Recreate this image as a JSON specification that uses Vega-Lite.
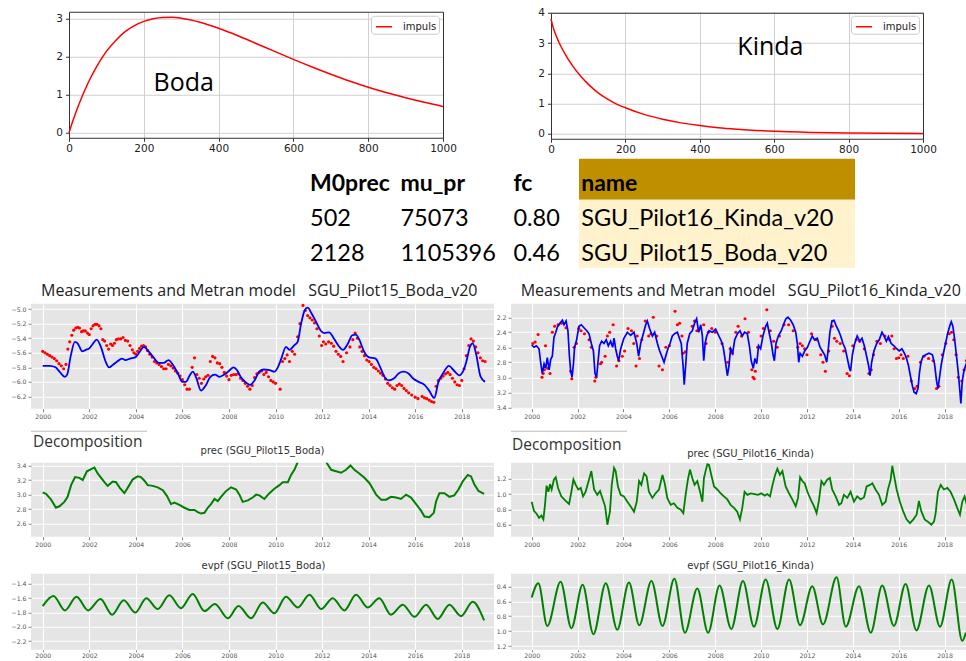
{
  "$schema": "https://vega.github.io/schema/vega-lite/v6.json",
  "background": "white",
  "padding": {"left": 10, "top": 7.75, "right": 0, "bottom": 0},
  "autosize": {"type": "pad"},
  "bounds": "flush",
  "align": "each",
  "columns": 2,
  "spacing": {"row": 0, "column": 17},
  "resolve": {"scale": {"color": "independent"}, "legend": {"color": "independent"}},
  "datasets": {
    "boda_impuls": [{"t":0,"v":0},{"t":10,"v":0.30},{"t":25,"v":0.71},{"t":50,"v":1.29},{"t":75,"v":1.76},{"t":100,"v":2.14},{"t":125,"v":2.43},{"t":150,"v":2.66},{"t":175,"v":2.82},{"t":200,"v":2.93},{"t":225,"v":3.00},{"t":250,"v":3.035},{"t":275,"v":3.038},{"t":300,"v":3.015},{"t":350,"v":2.91},{"t":400,"v":2.75},{"t":450,"v":2.56},{"t":500,"v":2.35},{"t":550,"v":2.14},{"t":600,"v":1.93},{"t":650,"v":1.73},{"t":700,"v":1.54},{"t":750,"v":1.36},{"t":800,"v":1.195},{"t":850,"v":1.05},{"t":900,"v":0.92},{"t":950,"v":0.80},{"t":1000,"v":0.69}],
    "kinda_impuls": [{"t":0,"v":3.8},{"t":5,"v":3.55},{"t":10,"v":3.36},{"t":20,"v":3.06},{"t":30,"v":2.81},{"t":40,"v":2.59},{"t":50,"v":2.39},{"t":60,"v":2.21},{"t":80,"v":1.90},{"t":100,"v":1.64},{"t":125,"v":1.37},{"t":150,"v":1.16},{"t":175,"v":0.99},{"t":200,"v":0.86},{"t":250,"v":0.64},{"t":300,"v":0.48},{"t":350,"v":0.36},{"t":400,"v":0.27},{"t":450,"v":0.20},{"t":500,"v":0.15},{"t":550,"v":0.11},{"t":600,"v":0.08},{"t":700,"v":0.045},{"t":800,"v":0.026},{"t":900,"v":0.015},{"t":1000,"v":0.009}],
    "cells": [
      {"row":"header","col":"M0prec","text":"M0prec"},{"row":"header","col":"mu_pr","text":"mu_pr"},{"row":"header","col":"fc","text":"fc"},{"row":"header","col":"name","text":"name"},
      {"row":"r1","col":"M0prec","text":"502"},{"row":"r1","col":"mu_pr","text":"75073"},{"row":"r1","col":"fc","text":"0.80"},{"row":"r1","col":"name","text":"SGU_Pilot16_Kinda_v20"},
      {"row":"r2","col":"M0prec","text":"2128"},{"row":"r2","col":"mu_pr","text":"1105396"},{"row":"r2","col":"fc","text":"0.46"},{"row":"r2","col":"name","text":"SGU_Pilot15_Boda_v20"}
    ],
    "boda_obs": [{"t":2000.0,"v":-5.58},{"t":2000.1,"v":-5.60},{"t":2000.2,"v":-5.62},{"t":2000.3,"v":-5.64},{"t":2000.4,"v":-5.66},{"t":2000.5,"v":-5.68},{"t":2000.6,"v":-5.71},{"t":2000.7,"v":-5.75},{"t":2000.8,"v":-5.78},{"t":2000.9,"v":-5.82},{"t":2001.0,"v":-5.76},{"t":2001.08,"v":-5.55},{"t":2001.16,"v":-5.45},{"t":2001.25,"v":-5.36},{"t":2001.33,"v":-5.29},{"t":2001.42,"v":-5.26},{"t":2001.5,"v":-5.25},{"t":2001.58,"v":-5.26},{"t":2001.67,"v":-5.31},{"t":2001.75,"v":-5.30},{"t":2001.83,"v":-5.30},{"t":2001.92,"v":-5.33},{"t":2002.0,"v":-5.35},{"t":2002.08,"v":-5.27},{"t":2002.16,"v":-5.23},{"t":2002.25,"v":-5.21},{"t":2002.33,"v":-5.21},{"t":2002.42,"v":-5.23},{"t":2002.5,"v":-5.27},{"t":2002.58,"v":-5.42},{"t":2002.66,"v":-5.44},{"t":2002.75,"v":-5.50},{"t":2002.83,"v":-5.55},{"t":2002.92,"v":-5.48},{"t":2003.0,"v":-5.50},{"t":2003.08,"v":-5.47},{"t":2003.16,"v":-5.42},{"t":2003.25,"v":-5.41},{"t":2003.35,"v":-5.41},{"t":2003.45,"v":-5.39},{"t":2003.55,"v":-5.43},{"t":2003.65,"v":-5.44},{"t":2003.75,"v":-5.50},{"t":2003.85,"v":-5.56},{"t":2003.92,"v":-5.60},{"t":2004.0,"v":-5.62},{"t":2004.08,"v":-5.58},{"t":2004.16,"v":-5.54},{"t":2004.25,"v":-5.51},{"t":2004.33,"v":-5.50},{"t":2004.42,"v":-5.52},{"t":2004.5,"v":-5.57},{"t":2004.6,"v":-5.62},{"t":2004.7,"v":-5.66},{"t":2004.8,"v":-5.72},{"t":2004.9,"v":-5.74},{"t":2005.0,"v":-5.76},{"t":2005.1,"v":-5.79},{"t":2005.2,"v":-5.82},{"t":2005.3,"v":-5.82},{"t":2005.4,"v":-5.76},{"t":2005.5,"v":-5.78},{"t":2005.6,"v":-5.81},{"t":2005.7,"v":-5.85},{"t":2005.8,"v":-5.88},{"t":2005.9,"v":-5.92},{"t":2006.0,"v":-5.97},{"t":2006.1,"v":-6.04},{"t":2006.2,"v":-6.10},{"t":2006.3,"v":-6.10},{"t":2006.42,"v":-5.80},{"t":2006.52,"v":-5.67},{"t":2006.62,"v":-5.90},{"t":2006.72,"v":-5.95},{"t":2006.82,"v":-6.02},{"t":2006.92,"v":-5.96},{"t":2007.0,"v":-5.93},{"t":2007.1,"v":-5.91},{"t":2007.2,"v":-5.72},{"t":2007.3,"v":-5.65},{"t":2007.4,"v":-5.67},{"t":2007.5,"v":-5.74},{"t":2007.6,"v":-5.75},{"t":2007.7,"v":-5.80},{"t":2007.8,"v":-5.87},{"t":2007.9,"v":-5.92},{"t":2008.0,"v":-5.97},{"t":2008.1,"v":-5.91},{"t":2008.2,"v":-5.90},{"t":2008.3,"v":-5.90},{"t":2008.4,"v":-5.89},{"t":2008.5,"v":-5.95},{"t":2008.6,"v":-5.98},{"t":2008.7,"v":-6.02},{"t":2008.8,"v":-6.06},{"t":2008.9,"v":-6.10},{"t":2009.0,"v":-6.05},{"t":2009.1,"v":-5.94},{"t":2009.2,"v":-5.89},{"t":2009.3,"v":-5.87},{"t":2009.4,"v":-5.85},{"t":2009.5,"v":-5.90},{"t":2009.6,"v":-5.87},{"t":2009.7,"v":-5.93},{"t":2009.8,"v":-5.98},{"t":2009.9,"v":-6.00},{"t":2010.0,"v":-6.02},{"t":2010.2,"v":-6.10},{"t":2010.3,"v":-5.72},{"t":2010.4,"v":-5.68},{"t":2010.5,"v":-5.63},{"t":2010.6,"v":-5.72},{"t":2010.72,"v":-5.58},{"t":2010.82,"v":-5.62},{"t":2010.95,"v":-5.38},{"t":2011.05,"v":-5.20},{"t":2011.18,"v":-4.95},{"t":2011.28,"v":-5.02},{"t":2011.38,"v":-5.09},{"t":2011.48,"v":-5.12},{"t":2011.58,"v":-5.15},{"t":2011.68,"v":-5.19},{"t":2011.78,"v":-5.27},{"t":2011.88,"v":-5.37},{"t":2011.98,"v":-5.50},{"t":2012.06,"v":-5.45},{"t":2012.16,"v":-5.48},{"t":2012.28,"v":-5.45},{"t":2012.4,"v":-5.47},{"t":2012.5,"v":-5.51},{"t":2012.6,"v":-5.58},{"t":2012.7,"v":-5.62},{"t":2012.8,"v":-5.65},{"t":2012.9,"v":-5.72},{"t":2013.05,"v":-5.60},{"t":2013.2,"v":-5.52},{"t":2013.32,"v":-5.42},{"t":2013.42,"v":-5.33},{"t":2013.52,"v":-5.40},{"t":2013.62,"v":-5.52},{"t":2013.72,"v":-5.58},{"t":2013.82,"v":-5.64},{"t":2013.92,"v":-5.70},{"t":2014.02,"v":-5.72},{"t":2014.12,"v":-5.76},{"t":2014.22,"v":-5.80},{"t":2014.32,"v":-5.82},{"t":2014.42,"v":-5.85},{"t":2014.52,"v":-5.88},{"t":2014.62,"v":-5.91},{"t":2014.72,"v":-5.96},{"t":2014.82,"v":-6.02},{"t":2014.92,"v":-6.05},{"t":2015.02,"v":-6.08},{"t":2015.12,"v":-6.10},{"t":2015.22,"v":-6.05},{"t":2015.32,"v":-6.03},{"t":2015.42,"v":-6.05},{"t":2015.52,"v":-6.09},{"t":2015.62,"v":-6.12},{"t":2015.72,"v":-6.15},{"t":2015.85,"v":-6.18},{"t":2016.0,"v":-6.21},{"t":2016.12,"v":-6.23},{"t":2016.3,"v":-6.20},{"t":2016.4,"v":-6.22},{"t":2016.5,"v":-6.23},{"t":2016.6,"v":-6.25},{"t":2016.7,"v":-6.27},{"t":2016.8,"v":-6.28},{"t":2016.9,"v":-6.06},{"t":2017.0,"v":-5.98},{"t":2017.1,"v":-5.95},{"t":2017.2,"v":-5.92},{"t":2017.3,"v":-5.89},{"t":2017.4,"v":-5.87},{"t":2017.5,"v":-5.90},{"t":2017.6,"v":-5.95},{"t":2017.7,"v":-6.00},{"t":2017.8,"v":-6.04},{"t":2017.9,"v":-6.05},{"t":2018.0,"v":-5.98},{"t":2018.1,"v":-5.82},{"t":2018.2,"v":-5.64},{"t":2018.3,"v":-5.50},{"t":2018.4,"v":-5.41},{"t":2018.5,"v":-5.44},{"t":2018.6,"v":-5.52},{"t":2018.7,"v":-5.60},{"t":2018.8,"v":-5.67},{"t":2018.9,"v":-5.71},{"t":2019.0,"v":-5.72}],
    "boda_model": [{"t":2000.0,"v":-5.78},{"t":2000.3,"v":-5.78},{"t":2000.55,"v":-5.80},{"t":2000.75,"v":-5.87},{"t":2000.95,"v":-5.93},{"t":2001.05,"v":-5.90},{"t":2001.2,"v":-5.65},{"t":2001.38,"v":-5.45},{"t":2001.5,"v":-5.47},{"t":2001.7,"v":-5.58},{"t":2001.85,"v":-5.56},{"t":2002.0,"v":-5.54},{"t":2002.15,"v":-5.48},{"t":2002.32,"v":-5.42},{"t":2002.5,"v":-5.52},{"t":2002.7,"v":-5.72},{"t":2002.85,"v":-5.80},{"t":2003.0,"v":-5.77},{"t":2003.2,"v":-5.72},{"t":2003.4,"v":-5.68},{"t":2003.55,"v":-5.70},{"t":2003.75,"v":-5.68},{"t":2004.0,"v":-5.66},{"t":2004.2,"v":-5.57},{"t":2004.35,"v":-5.52},{"t":2004.55,"v":-5.58},{"t":2004.75,"v":-5.66},{"t":2005.0,"v":-5.74},{"t":2005.2,"v":-5.74},{"t":2005.4,"v":-5.70},{"t":2005.6,"v":-5.77},{"t":2005.8,"v":-5.88},{"t":2006.0,"v":-6.00},{"t":2006.15,"v":-6.00},{"t":2006.3,"v":-5.92},{"t":2006.45,"v":-5.86},{"t":2006.6,"v":-5.95},{"t":2006.8,"v":-6.12},{"t":2007.0,"v":-6.05},{"t":2007.2,"v":-5.93},{"t":2007.4,"v":-5.90},{"t":2007.6,"v":-5.93},{"t":2007.8,"v":-5.90},{"t":2008.0,"v":-5.85},{"t":2008.2,"v":-5.80},{"t":2008.35,"v":-5.84},{"t":2008.5,"v":-5.93},{"t":2008.7,"v":-6.00},{"t":2008.9,"v":-6.04},{"t":2009.1,"v":-5.98},{"t":2009.3,"v":-5.86},{"t":2009.5,"v":-5.83},{"t":2009.75,"v":-5.84},{"t":2009.95,"v":-5.86},{"t":2010.1,"v":-5.80},{"t":2010.25,"v":-5.68},{"t":2010.45,"v":-5.52},{"t":2010.6,"v":-5.56},{"t":2010.8,"v":-5.50},{"t":2010.95,"v":-5.45},{"t":2011.1,"v":-5.20},{"t":2011.25,"v":-5.02},{"t":2011.38,"v":-4.98},{"t":2011.55,"v":-5.06},{"t":2011.75,"v":-5.18},{"t":2011.95,"v":-5.30},{"t":2012.1,"v":-5.33},{"t":2012.3,"v":-5.32},{"t":2012.5,"v":-5.40},{"t":2012.7,"v":-5.50},{"t":2012.9,"v":-5.56},{"t":2013.1,"v":-5.48},{"t":2013.3,"v":-5.36},{"t":2013.45,"v":-5.35},{"t":2013.6,"v":-5.42},{"t":2013.8,"v":-5.58},{"t":2014.0,"v":-5.66},{"t":2014.3,"v":-5.68},{"t":2014.5,"v":-5.80},{"t":2014.7,"v":-5.94},{"t":2014.85,"v":-5.98},{"t":2015.1,"v":-5.95},{"t":2015.3,"v":-5.88},{"t":2015.5,"v":-5.86},{"t":2015.7,"v":-5.88},{"t":2015.9,"v":-5.95},{"t":2016.15,"v":-6.00},{"t":2016.4,"v":-6.04},{"t":2016.6,"v":-6.12},{"t":2016.82,"v":-6.22},{"t":2017.0,"v":-6.00},{"t":2017.2,"v":-5.88},{"t":2017.45,"v":-5.78},{"t":2017.65,"v":-5.84},{"t":2017.9,"v":-5.91},{"t":2018.05,"v":-5.86},{"t":2018.2,"v":-5.72},{"t":2018.35,"v":-5.52},{"t":2018.47,"v":-5.47},{"t":2018.62,"v":-5.62},{"t":2018.8,"v":-5.92},{"t":2019.0,"v":-6.0}],
    "kinda_obs": [{"t":2000.05,"v":2.55},{"t":2000.15,"v":2.53},{"t":2000.28,"v":2.43},{"t":2000.45,"v":3.0},{"t":2000.5,"v":2.95},{"t":2000.55,"v":2.9},{"t":2000.6,"v":2.58},{"t":2000.7,"v":2.88},{"t":2000.8,"v":2.95},{"t":2000.9,"v":2.4},{"t":2001.0,"v":2.32},{"t":2001.15,"v":2.3},{"t":2001.3,"v":2.28},{"t":2001.5,"v":2.34},{"t":2001.7,"v":2.92},{"t":2001.75,"v":3.02},{"t":2001.85,"v":2.6},{"t":2001.95,"v":2.55},{"t":2002.05,"v":2.35},{"t":2002.15,"v":2.38},{"t":2002.3,"v":2.42},{"t":2002.5,"v":2.5},{"t":2002.6,"v":2.6},{"t":2002.75,"v":3.05},{"t":2002.8,"v":3.0},{"t":2003.0,"v":2.82},{"t":2003.05,"v":2.8},{"t":2003.2,"v":2.72},{"t":2003.3,"v":2.45},{"t":2003.4,"v":2.4},{"t":2003.55,"v":2.3},{"t":2003.7,"v":2.85},{"t":2003.8,"v":2.78},{"t":2003.95,"v":2.72},{"t":2004.05,"v":2.65},{"t":2004.2,"v":2.35},{"t":2004.35,"v":2.38},{"t":2004.45,"v":2.55},{"t":2004.55,"v":2.85},{"t":2004.6,"v":2.45},{"t":2004.7,"v":2.75},{"t":2004.8,"v":2.5},{"t":2004.95,"v":2.25},{"t":2005.1,"v":2.45},{"t":2005.2,"v":2.42},{"t":2005.3,"v":2.2},{"t":2005.45,"v":2.45},{"t":2005.55,"v":2.85},{"t":2005.7,"v":2.9},{"t":2005.85,"v":2.6},{"t":2006.0,"v":2.58},{"t":2006.25,"v":2.12},{"t":2006.35,"v":2.3},{"t":2006.45,"v":2.28},{"t":2006.55,"v":2.45},{"t":2006.6,"v":2.68},{"t":2006.7,"v":2.66},{"t":2007.0,"v":2.32},{"t":2007.1,"v":2.25},{"t":2007.2,"v":2.38},{"t":2007.35,"v":2.35},{"t":2007.5,"v":2.3},{"t":2007.6,"v":2.55},{"t":2007.7,"v":2.4},{"t":2007.85,"v":2.35},{"t":2008.0,"v":2.4},{"t":2008.3,"v":2.55},{"t":2008.55,"v":2.8},{"t":2008.65,"v":2.62},{"t":2008.75,"v":2.68},{"t":2008.9,"v":2.4},{"t":2009.0,"v":2.32},{"t":2009.15,"v":2.45},{"t":2009.3,"v":2.22},{"t":2009.45,"v":2.4},{"t":2009.6,"v":2.9},{"t":2009.65,"v":3.0},{"t":2009.7,"v":3.02},{"t":2009.75,"v":2.92},{"t":2009.85,"v":2.6},{"t":2010.0,"v":2.45},{"t":2010.1,"v":2.35},{"t":2010.25,"v":2.1},{"t":2010.4,"v":2.38},{"t":2010.55,"v":2.52},{"t":2010.7,"v":2.6},{"t":2010.8,"v":2.45},{"t":2011.0,"v":2.3},{"t":2011.2,"v":2.3},{"t":2011.4,"v":2.38},{"t":2011.6,"v":2.6},{"t":2011.7,"v":2.55},{"t":2011.8,"v":2.58},{"t":2011.9,"v":2.62},{"t":2012.0,"v":2.7},{"t":2012.2,"v":2.42},{"t":2012.4,"v":2.5},{"t":2012.6,"v":2.7},{"t":2012.7,"v":2.8},{"t":2012.8,"v":2.92},{"t":2012.95,"v":2.65},{"t":2013.1,"v":2.32},{"t":2013.2,"v":2.48},{"t":2013.3,"v":2.52},{"t":2013.45,"v":2.55},{"t":2013.6,"v":2.65},{"t":2013.75,"v":2.95},{"t":2013.85,"v":2.98},{"t":2014.0,"v":2.58},{"t":2014.15,"v":2.5},{"t":2014.3,"v":2.52},{"t":2014.5,"v":2.62},{"t":2014.7,"v":2.95},{"t":2014.8,"v":2.9},{"t":2014.9,"v":2.7},{"t":2015.05,"v":2.52},{"t":2015.2,"v":2.55},{"t":2015.4,"v":2.45},{"t":2015.6,"v":2.5},{"t":2015.7,"v":2.45},{"t":2015.8,"v":2.62},{"t":2015.9,"v":2.75},{"t":2016.0,"v":2.74},{"t":2016.1,"v":2.7},{"t":2016.2,"v":2.75},{"t":2016.4,"v":2.72},{"t":2016.55,"v":3.05},{"t":2016.7,"v":3.15},{"t":2016.8,"v":3.12},{"t":2016.95,"v":2.8},{"t":2017.1,"v":2.72},{"t":2017.3,"v":2.75},{"t":2017.5,"v":2.78},{"t":2017.65,"v":3.15},{"t":2017.75,"v":3.12},{"t":2017.9,"v":2.7},{"t":2018.05,"v":2.55},{"t":2018.2,"v":2.42},{"t":2018.3,"v":2.4},{"t":2018.4,"v":2.5},{"t":2018.5,"v":2.7},{"t":2018.6,"v":3.0},{"t":2018.75,"v":3.05},{"t":2018.85,"v":2.9},{"t":2018.95,"v":2.78}],
    "kinda_model": [{"t":2000.00,"v":2.57},{"t":2000.10,"v":2.60},{"t":2000.20,"v":2.58},{"t":2000.32,"v":2.62},{"t":2000.39,"v":2.80},{"t":2000.46,"v":2.95},{"t":2000.54,"v":2.82},{"t":2000.61,"v":2.88},{"t":2000.68,"v":2.74},{"t":2000.76,"v":2.90},{"t":2000.83,"v":2.76},{"t":2000.90,"v":2.72},{"t":2000.97,"v":2.47},{"t":2001.05,"v":2.40},{"t":2001.12,"v":2.33},{"t":2001.23,"v":2.28},{"t":2001.34,"v":2.24},{"t":2001.41,"v":2.30},{"t":2001.50,"v":2.25},{"t":2001.58,"v":2.38},{"t":2001.64,"v":2.70},{"t":2001.70,"v":2.92},{"t":2001.76,"v":3.00},{"t":2001.82,"v":2.82},{"t":2001.87,"v":2.60},{"t":2001.96,"v":2.50},{"t":2002.06,"v":2.32},{"t":2002.16,"v":2.30},{"t":2002.28,"v":2.34},{"t":2002.40,"v":2.38},{"t":2002.50,"v":2.42},{"t":2002.60,"v":2.55},{"t":2002.69,"v":2.65},{"t":2002.76,"v":2.95},{"t":2002.83,"v":3.00},{"t":2002.89,"v":2.80},{"t":2002.96,"v":2.58},{"t":2003.05,"v":2.52},{"t":2003.15,"v":2.55},{"t":2003.25,"v":2.50},{"t":2003.34,"v":2.58},{"t":2003.44,"v":2.52},{"t":2003.53,"v":2.60},{"t":2003.59,"v":2.48},{"t":2003.66,"v":2.62},{"t":2003.73,"v":2.72},{"t":2003.79,"v":2.78},{"t":2003.88,"v":2.62},{"t":2004.02,"v":2.48},{"t":2004.17,"v":2.40},{"t":2004.31,"v":2.44},{"t":2004.46,"v":2.40},{"t":2004.58,"v":2.55},{"t":2004.66,"v":2.72},{"t":2004.75,"v":2.55},{"t":2004.84,"v":2.45},{"t":2004.97,"v":2.30},{"t":2005.04,"v":2.25},{"t":2005.14,"v":2.35},{"t":2005.26,"v":2.45},{"t":2005.36,"v":2.40},{"t":2005.48,"v":2.55},{"t":2005.58,"v":2.65},{"t":2005.67,"v":2.72},{"t":2005.77,"v":2.80},{"t":2005.86,"v":2.70},{"t":2005.94,"v":2.62},{"t":2006.03,"v":2.55},{"t":2006.13,"v":2.45},{"t":2006.23,"v":2.42},{"t":2006.35,"v":2.40},{"t":2006.44,"v":2.48},{"t":2006.52,"v":2.55},{"t":2006.60,"v":2.85},{"t":2006.65,"v":3.10},{"t":2006.71,"v":2.85},{"t":2006.78,"v":2.55},{"t":2006.89,"v":2.42},{"t":2007.00,"v":2.38},{"t":2007.10,"v":2.28},{"t":2007.19,"v":2.22},{"t":2007.28,"v":2.40},{"t":2007.37,"v":2.30},{"t":2007.44,"v":2.45},{"t":2007.50,"v":2.78},{"t":2007.56,"v":2.55},{"t":2007.63,"v":2.45},{"t":2007.73,"v":2.38},{"t":2007.87,"v":2.40},{"t":2008.02,"v":2.36},{"t":2008.16,"v":2.45},{"t":2008.27,"v":2.52},{"t":2008.35,"v":2.60},{"t":2008.44,"v":2.78},{"t":2008.53,"v":2.98},{"t":2008.60,"v":2.85},{"t":2008.67,"v":2.62},{"t":2008.76,"v":2.68},{"t":2008.85,"v":2.50},{"t":2008.97,"v":2.42},{"t":2009.08,"v":2.38},{"t":2009.18,"v":2.45},{"t":2009.28,"v":2.40},{"t":2009.40,"v":2.42},{"t":2009.49,"v":2.58},{"t":2009.57,"v":2.78},{"t":2009.66,"v":2.88},{"t":2009.73,"v":2.75},{"t":2009.81,"v":2.82},{"t":2009.89,"v":2.58},{"t":2009.98,"v":2.62},{"t":2010.08,"v":2.45},{"t":2010.20,"v":2.32},{"t":2010.27,"v":2.28},{"t":2010.36,"v":2.42},{"t":2010.45,"v":2.55},{"t":2010.52,"v":2.70},{"t":2010.58,"v":2.78},{"t":2010.65,"v":2.55},{"t":2010.75,"v":2.45},{"t":2010.88,"v":2.38},{"t":2011.00,"v":2.28},{"t":2011.08,"v":2.22},{"t":2011.17,"v":2.20},{"t":2011.29,"v":2.24},{"t":2011.40,"v":2.30},{"t":2011.51,"v":2.40},{"t":2011.58,"v":2.55},{"t":2011.64,"v":2.80},{"t":2011.70,"v":2.68},{"t":2011.80,"v":2.72},{"t":2011.90,"v":2.65},{"t":2012.02,"v":2.60},{"t":2012.13,"v":2.52},{"t":2012.23,"v":2.45},{"t":2012.33,"v":2.50},{"t":2012.45,"v":2.48},{"t":2012.57,"v":2.60},{"t":2012.67,"v":2.65},{"t":2012.77,"v":2.70},{"t":2012.86,"v":2.80},{"t":2012.93,"v":2.62},{"t":2013.00,"v":2.40},{"t":2013.09,"v":2.25},{"t":2013.18,"v":2.24},{"t":2013.28,"v":2.32},{"t":2013.38,"v":2.38},{"t":2013.47,"v":2.45},{"t":2013.57,"v":2.55},{"t":2013.67,"v":2.62},{"t":2013.76,"v":2.75},{"t":2013.85,"v":2.88},{"t":2013.90,"v":2.92},{"t":2013.98,"v":2.70},{"t":2014.08,"v":2.55},{"t":2014.19,"v":2.45},{"t":2014.30,"v":2.52},{"t":2014.40,"v":2.48},{"t":2014.50,"v":2.58},{"t":2014.60,"v":2.72},{"t":2014.69,"v":2.85},{"t":2014.75,"v":2.98},{"t":2014.82,"v":2.80},{"t":2014.92,"v":2.65},{"t":2015.04,"v":2.55},{"t":2015.15,"v":2.50},{"t":2015.27,"v":2.40},{"t":2015.36,"v":2.45},{"t":2015.46,"v":2.52},{"t":2015.55,"v":2.46},{"t":2015.67,"v":2.55},{"t":2015.79,"v":2.58},{"t":2015.91,"v":2.62},{"t":2016.02,"v":2.65},{"t":2016.14,"v":2.62},{"t":2016.25,"v":2.68},{"t":2016.34,"v":2.75},{"t":2016.43,"v":2.85},{"t":2016.52,"v":3.00},{"t":2016.60,"v":3.12},{"t":2016.67,"v":3.20},{"t":2016.76,"v":3.22},{"t":2016.84,"v":3.15},{"t":2016.90,"v":2.95},{"t":2016.97,"v":2.80},{"t":2017.06,"v":2.72},{"t":2017.18,"v":2.70},{"t":2017.32,"v":2.68},{"t":2017.47,"v":2.70},{"t":2017.56,"v":2.82},{"t":2017.65,"v":3.05},{"t":2017.71,"v":3.15},{"t":2017.78,"v":3.00},{"t":2017.86,"v":2.82},{"t":2017.95,"v":2.68},{"t":2018.04,"v":2.55},{"t":2018.13,"v":2.42},{"t":2018.22,"v":2.32},{"t":2018.29,"v":2.26},{"t":2018.36,"v":2.32},{"t":2018.44,"v":2.50},{"t":2018.52,"v":2.72},{"t":2018.60,"v":2.95},{"t":2018.67,"v":3.20},{"t":2018.71,"v":3.35},{"t":2018.77,"v":3.05},{"t":2018.84,"v":2.92},{"t":2018.91,"v":2.85},{"t":2018.97,"v":2.80}],
    "boda_prec": [{"t":2000.00,"v":3.03},{"t":2000.14,"v":3.01},{"t":2000.36,"v":2.93},{"t":2000.57,"v":2.82},{"t":2000.72,"v":2.84},{"t":2000.93,"v":2.90},{"t":2001.07,"v":2.97},{"t":2001.22,"v":3.13},{"t":2001.39,"v":3.24},{"t":2001.58,"v":3.23},{"t":2001.72,"v":3.20},{"t":2001.90,"v":3.32},{"t":2002.08,"v":3.35},{"t":2002.22,"v":3.37},{"t":2002.36,"v":3.29},{"t":2002.51,"v":3.23},{"t":2002.65,"v":3.17},{"t":2002.79,"v":3.12},{"t":2003.01,"v":3.18},{"t":2003.15,"v":3.17},{"t":2003.32,"v":3.09},{"t":2003.51,"v":3.02},{"t":2003.72,"v":3.13},{"t":2003.87,"v":3.21},{"t":2004.08,"v":3.25},{"t":2004.22,"v":3.24},{"t":2004.37,"v":3.19},{"t":2004.51,"v":3.13},{"t":2004.73,"v":3.12},{"t":2004.94,"v":3.10},{"t":2005.16,"v":3.06},{"t":2005.34,"v":2.98},{"t":2005.51,"v":2.87},{"t":2005.66,"v":2.89},{"t":2005.87,"v":2.86},{"t":2006.09,"v":2.82},{"t":2006.30,"v":2.79},{"t":2006.52,"v":2.79},{"t":2006.66,"v":2.76},{"t":2006.80,"v":2.74},{"t":2006.95,"v":2.75},{"t":2007.09,"v":2.82},{"t":2007.23,"v":2.87},{"t":2007.38,"v":2.94},{"t":2007.52,"v":2.91},{"t":2007.66,"v":2.97},{"t":2007.88,"v":3.05},{"t":2008.09,"v":3.10},{"t":2008.31,"v":3.07},{"t":2008.45,"v":3.00},{"t":2008.59,"v":2.90},{"t":2008.81,"v":2.92},{"t":2009.02,"v":2.96},{"t":2009.17,"v":3.00},{"t":2009.31,"v":2.99},{"t":2009.52,"v":2.94},{"t":2009.74,"v":3.02},{"t":2009.95,"v":3.08},{"t":2010.17,"v":3.13},{"t":2010.31,"v":3.17},{"t":2010.53,"v":3.17},{"t":2010.67,"v":3.27},{"t":2010.81,"v":3.34},{"t":2010.96,"v":3.45},{"t":2011.2,"v":3.62},{"t":2011.5,"v":3.72},{"t":2011.8,"v":3.66},{"t":2012.0,"v":3.55},{"t":2012.17,"v":3.45},{"t":2012.39,"v":3.34},{"t":2012.60,"v":3.32},{"t":2012.82,"v":3.30},{"t":2013.03,"v":3.34},{"t":2013.22,"v":3.40},{"t":2013.39,"v":3.34},{"t":2013.60,"v":3.29},{"t":2013.82,"v":3.23},{"t":2014.03,"v":3.16},{"t":2014.18,"v":3.08},{"t":2014.32,"v":3.00},{"t":2014.54,"v":2.93},{"t":2014.75,"v":2.93},{"t":2014.96,"v":2.97},{"t":2015.18,"v":2.96},{"t":2015.39,"v":2.94},{"t":2015.61,"v":3.00},{"t":2015.82,"v":2.96},{"t":2016.04,"v":2.87},{"t":2016.25,"v":2.78},{"t":2016.40,"v":2.70},{"t":2016.61,"v":2.69},{"t":2016.80,"v":2.75},{"t":2016.90,"v":2.91},{"t":2017.04,"v":3.02},{"t":2017.26,"v":3.02},{"t":2017.47,"v":2.97},{"t":2017.68,"v":2.99},{"t":2017.86,"v":3.07},{"t":2018.04,"v":3.18},{"t":2018.26,"v":3.27},{"t":2018.40,"v":3.25},{"t":2018.54,"v":3.14},{"t":2018.72,"v":3.05},{"t":2018.96,"v":3.01}],
    "kinda_prec": [{"t":2000.00,"v":0.90},{"t":2000.10,"v":0.78},{"t":2000.22,"v":0.74},{"t":2000.32,"v":0.69},{"t":2000.42,"v":0.72},{"t":2000.51,"v":0.67},{"t":2000.58,"v":0.86},{"t":2000.65,"v":1.11},{"t":2000.73,"v":1.03},{"t":2000.80,"v":1.13},{"t":2000.87,"v":1.06},{"t":2000.97,"v":1.19},{"t":2001.05,"v":1.22},{"t":2001.15,"v":1.08},{"t":2001.29,"v":0.97},{"t":2001.48,"v":0.91},{"t":2001.63,"v":0.87},{"t":2001.73,"v":1.03},{"t":2001.82,"v":1.19},{"t":2001.92,"v":1.12},{"t":2002.03,"v":1.06},{"t":2002.14,"v":1.08},{"t":2002.24,"v":0.97},{"t":2002.35,"v":1.03},{"t":2002.50,"v":1.19},{"t":2002.60,"v":1.30},{"t":2002.72,"v":1.06},{"t":2002.86,"v":0.99},{"t":2002.98,"v":1.04},{"t":2003.08,"v":0.95},{"t":2003.20,"v":0.84},{"t":2003.30,"v":0.60},{"t":2003.41,"v":0.77},{"t":2003.49,"v":1.12},{"t":2003.59,"v":1.34},{"t":2003.66,"v":1.30},{"t":2003.76,"v":1.10},{"t":2003.88,"v":0.99},{"t":2004.02,"v":0.97},{"t":2004.17,"v":0.90},{"t":2004.31,"v":0.84},{"t":2004.46,"v":0.77},{"t":2004.58,"v":0.90},{"t":2004.68,"v":1.17},{"t":2004.78,"v":1.12},{"t":2004.90,"v":1.27},{"t":2005.01,"v":1.23},{"t":2005.11,"v":1.03},{"t":2005.26,"v":0.95},{"t":2005.40,"v":1.01},{"t":2005.55,"v":1.06},{"t":2005.70,"v":1.25},{"t":2005.80,"v":1.14},{"t":2005.91,"v":0.95},{"t":2006.06,"v":0.86},{"t":2006.20,"v":0.88},{"t":2006.35,"v":0.82},{"t":2006.49,"v":0.80},{"t":2006.61,"v":0.75},{"t":2006.71,"v":0.99},{"t":2006.81,"v":1.19},{"t":2006.90,"v":1.32},{"t":2007.00,"v":1.21},{"t":2007.10,"v":1.12},{"t":2007.22,"v":1.17},{"t":2007.34,"v":1.03},{"t":2007.44,"v":0.90},{"t":2007.51,"v":1.21},{"t":2007.58,"v":1.30},{"t":2007.66,"v":1.39},{"t":2007.73,"v":1.38},{"t":2007.83,"v":1.25},{"t":2007.95,"v":1.10},{"t":2008.09,"v":1.06},{"t":2008.24,"v":1.01},{"t":2008.38,"v":0.97},{"t":2008.53,"v":0.93},{"t":2008.67,"v":0.86},{"t":2008.82,"v":0.82},{"t":2008.96,"v":0.77},{"t":2009.08,"v":0.67},{"t":2009.18,"v":0.82},{"t":2009.28,"v":1.03},{"t":2009.40,"v":0.99},{"t":2009.55,"v":1.01},{"t":2009.72,"v":1.00},{"t":2009.86,"v":0.99},{"t":2010.01,"v":1.01},{"t":2010.16,"v":0.98},{"t":2010.27,"v":1.00},{"t":2010.39,"v":0.97},{"t":2010.50,"v":1.12},{"t":2010.61,"v":1.25},{"t":2010.71,"v":1.33},{"t":2010.82,"v":1.25},{"t":2010.93,"v":1.30},{"t":2011.07,"v":1.10},{"t":2011.22,"v":1.01},{"t":2011.36,"v":0.93},{"t":2011.51,"v":0.84},{"t":2011.61,"v":0.95},{"t":2011.70,"v":1.22},{"t":2011.80,"v":1.17},{"t":2011.90,"v":1.14},{"t":2012.02,"v":1.03},{"t":2012.16,"v":0.93},{"t":2012.31,"v":0.84},{"t":2012.42,"v":0.75},{"t":2012.52,"v":0.91},{"t":2012.63,"v":1.17},{"t":2012.74,"v":1.12},{"t":2012.89,"v":1.19},{"t":2013.00,"v":1.21},{"t":2013.10,"v":1.06},{"t":2013.25,"v":0.97},{"t":2013.40,"v":0.86},{"t":2013.50,"v":0.88},{"t":2013.61,"v":0.99},{"t":2013.76,"v":0.95},{"t":2013.90,"v":1.03},{"t":2014.05,"v":0.90},{"t":2014.19,"v":0.97},{"t":2014.34,"v":0.93},{"t":2014.49,"v":0.96},{"t":2014.60,"v":1.10},{"t":2014.75,"v":1.12},{"t":2014.85,"v":1.14},{"t":2014.99,"v":1.06},{"t":2015.14,"v":0.99},{"t":2015.28,"v":0.86},{"t":2015.43,"v":0.90},{"t":2015.53,"v":1.06},{"t":2015.65,"v":1.19},{"t":2015.72,"v":1.37},{"t":2015.79,"v":1.25},{"t":2015.91,"v":1.06},{"t":2016.05,"v":0.90},{"t":2016.20,"v":0.77},{"t":2016.34,"v":0.67},{"t":2016.49,"v":0.62},{"t":2016.64,"v":0.67},{"t":2016.78,"v":0.73},{"t":2016.88,"v":0.91},{"t":2016.98,"v":0.78},{"t":2017.13,"v":0.67},{"t":2017.27,"v":0.64},{"t":2017.42,"v":0.60},{"t":2017.54,"v":0.64},{"t":2017.61,"v":0.75},{"t":2017.71,"v":1.03},{"t":2017.83,"v":1.12},{"t":2017.97,"v":1.06},{"t":2018.12,"v":1.08},{"t":2018.26,"v":1.03},{"t":2018.41,"v":0.93},{"t":2018.55,"v":0.82},{"t":2018.67,"v":0.73},{"t":2018.77,"v":0.90},{"t":2018.87,"v":0.97},{"t":2018.97,"v":0.86}],
    "boda_evpf": [{"t":2000.0,"v":-1.71},{"t":2000.46,"v":-1.57},{"t":2000.96,"v":-1.77},{"t":2001.45,"v":-1.58},{"t":2001.95,"v":-1.77},{"t":2002.48,"v":-1.61},{"t":2002.98,"v":-1.83},{"t":2003.48,"v":-1.63},{"t":2003.98,"v":-1.80},{"t":2004.45,"v":-1.60},{"t":2004.94,"v":-1.75},{"t":2005.44,"v":-1.56},{"t":2005.94,"v":-1.74},{"t":2006.44,"v":-1.54},{"t":2006.95,"v":-1.78},{"t":2007.40,"v":-1.68},{"t":2007.95,"v":-1.88},{"t":2008.41,"v":-1.71},{"t":2008.95,"v":-1.88},{"t":2009.45,"v":-1.66},{"t":2009.95,"v":-1.81},{"t":2010.45,"v":-1.58},{"t":2010.96,"v":-1.73},{"t":2011.46,"v":-1.55},{"t":2011.96,"v":-1.75},{"t":2012.46,"v":-1.60},{"t":2012.96,"v":-1.77},{"t":2013.46,"v":-1.55},{"t":2013.96,"v":-1.73},{"t":2014.46,"v":-1.60},{"t":2014.96,"v":-1.83},{"t":2015.47,"v":-1.69},{"t":2015.97,"v":-1.86},{"t":2016.47,"v":-1.69},{"t":2016.97,"v":-1.89},{"t":2017.47,"v":-1.69},{"t":2017.97,"v":-1.85},{"t":2018.47,"v":-1.65},{"t":2018.96,"v":-1.91}],
    "kinda_evpf": [{"t":2000.0,"v":0.55},{"t":2000.29,"v":0.36},{"t":2000.68,"v":0.93},{"t":2001.26,"v":0.34},{"t":2001.73,"v":0.96},{"t":2002.22,"v":0.38},{"t":2002.69,"v":1.04},{"t":2003.23,"v":0.36},{"t":2003.73,"v":0.98},{"t":2004.24,"v":0.35},{"t":2004.69,"v":0.92},{"t":2005.22,"v":0.33},{"t":2005.70,"v":0.93},{"t":2006.22,"v":0.30},{"t":2006.68,"v":1.02},{"t":2007.22,"v":0.43},{"t":2007.69,"v":1.02},{"t":2008.19,"v":0.39},{"t":2008.70,"v":0.97},{"t":2009.21,"v":0.33},{"t":2009.69,"v":0.94},{"t":2010.20,"v":0.31},{"t":2010.71,"v":0.97},{"t":2011.22,"v":0.31},{"t":2011.70,"v":0.92},{"t":2012.23,"v":0.40},{"t":2012.70,"v":0.91},{"t":2013.29,"v":0.28},{"t":2013.69,"v":0.94},{"t":2014.27,"v":0.40},{"t":2014.78,"v":1.02},{"t":2015.28,"v":0.39},{"t":2015.79,"v":0.93},{"t":2016.30,"v":0.37},{"t":2016.77,"v":0.99},{"t":2017.32,"v":0.39},{"t":2017.80,"v":0.94},{"t":2018.31,"v":0.31},{"t":2018.77,"v":1.13},{"t":2018.93,"v":1.02}]
  },
  "concat": [
    {
      "width": 412, "height": 126,
      "layer": [
        {
          "data": {"name": "boda_impuls"},
          "mark": {"type": "line", "strokeWidth": 1.5, "interpolate": "monotone"},
          "encoding": {
            "x": {"field": "t", "type": "quantitative", "title": null,
              "scale": {"domain": [0, 1000], "range": [38, 412], "nice": false, "zero": false},
              "axis": {"values": [0, 200, 400, 600, 800, 1000], "format": "d", "grid": true, "gridColor": "#d0d0d0", "gridWidth": 1, "domain": true, "domainColor": "#333333", "domainWidth": 1, "tickSize": 3.5, "tickColor": "#333333", "tickWidth": 1, "labelFont": "DejaVu Sans", "labelFontSize": 10.5, "labelColor": "#222222", "labelPadding": 2}},
            "y": {"field": "v", "type": "quantitative", "title": null,
              "scale": {"domain": [-0.132, 3.184], "nice": false, "zero": false},
              "axis": {"values": [0, 1, 2, 3], "offset": -38, "grid": true, "gridColor": "#d0d0d0", "gridWidth": 1, "domain": true, "domainColor": "#333333", "domainWidth": 1, "tickSize": 3.5, "tickColor": "#333333", "tickWidth": 1, "labelFont": "DejaVu Sans", "labelFontSize": 10.5, "labelColor": "#222222", "labelPadding": 3}},
            "color": {"datum": "impuls", "type": "nominal", "scale": {"range": ["#ff0000"]},
              "legend": {"title": null, "orient": "top-right", "offset": 4, "padding": 2, "fillColor": "#ffffff", "strokeColor": "#cccccc", "cornerRadius": 3, "symbolType": "stroke", "symbolSize": 256, "symbolOffset": 2, "symbolStrokeWidth": 1.5, "labelFont": "DejaVu Sans", "labelFontSize": 10, "labelColor": "#222222", "labelOffset": 10}}
          }
        },
        {
          "data": {"values": [{}]},
          "mark": {"type": "text", "text": "Boda", "font": "Open Sans", "fontSize": 25, "align": "left", "baseline": "alphabetic", "color": "#000000"},
          "encoding": {
            "x": {"datum": 226, "axis": {"orient": "top", "labels": false, "ticks": false, "grid": false, "domain": true, "domainColor": "#333333", "domainWidth": 1}},
            "y": {"datum": 1.09, "axis": {"orient": "right", "labels": false, "ticks": false, "grid": false, "domain": true, "domainColor": "#333333", "domainWidth": 1}}
          }
        }
      ],
      "resolve": {"axis": {"x": "independent", "y": "independent"}}
    },
    {
      "width": 412, "height": 127,
      "layer": [
        {
          "data": {"name": "kinda_impuls"},
          "mark": {"type": "line", "strokeWidth": 1.5, "interpolate": "monotone"},
          "encoding": {
            "x": {"field": "t", "type": "quantitative", "title": null,
              "scale": {"domain": [0, 1000], "range": [40, 412], "nice": false, "zero": false},
              "axis": {"values": [0, 200, 400, 600, 800, 1000], "format": "d", "grid": true, "gridColor": "#d0d0d0", "gridWidth": 1, "domain": true, "domainColor": "#333333", "domainWidth": 1, "tickSize": 3.5, "tickColor": "#333333", "tickWidth": 1, "labelFont": "DejaVu Sans", "labelFontSize": 10.5, "labelColor": "#222222", "labelPadding": 2}},
            "y": {"field": "v", "type": "quantitative", "title": null,
              "scale": {"domain": [-0.165, 4.0], "range": [127, 1], "nice": false, "zero": false},
              "axis": {"values": [0, 1, 2, 3, 4], "offset": -40, "grid": true, "gridColor": "#d0d0d0", "gridWidth": 1, "domain": true, "domainColor": "#333333", "domainWidth": 1, "tickSize": 3.5, "tickColor": "#333333", "tickWidth": 1, "labelFont": "DejaVu Sans", "labelFontSize": 10.5, "labelColor": "#222222", "labelPadding": 3}},
            "color": {"datum": "impuls", "type": "nominal", "scale": {"range": ["#ff0000"]},
              "legend": {"title": null, "orient": "top-right", "offset": 4, "padding": 2, "fillColor": "#ffffff", "strokeColor": "#cccccc", "cornerRadius": 3, "symbolType": "stroke", "symbolSize": 256, "symbolOffset": 2, "symbolStrokeWidth": 1.5, "labelFont": "DejaVu Sans", "labelFontSize": 10, "labelColor": "#222222", "labelOffset": 10}}
          }
        },
        {
          "data": {"values": [{}]},
          "mark": {"type": "text", "text": "Kinda", "font": "Open Sans", "fontSize": 25, "align": "left", "baseline": "alphabetic", "color": "#000000"},
          "encoding": {
            "x": {"datum": 501, "axis": {"orient": "top", "offset": -1, "labels": false, "ticks": false, "grid": false, "domain": true, "domainColor": "#333333", "domainWidth": 1}},
            "y": {"datum": 2.61, "axis": {"orient": "right", "labels": false, "ticks": false, "grid": false, "domain": true, "domainColor": "#333333", "domainWidth": 1}}
          }
        }
      ],
      "resolve": {"axis": {"x": "independent", "y": "independent"}}
    },
    {
      "width": 100, "height": 165,
      "resolve": {"scale": {"x": "independent", "y": "independent"}},
      "layer": [
        {
          "data": {"values": [{"part": "head"}]},
          "mark": {"type": "rect", "color": "#bf8f00"},
          "encoding": {
            "x": {"field": "part", "type": "nominal", "scale": {"type": "band", "domain": ["head"], "range": [548, 824], "paddingInner": 0, "paddingOuter": 0}, "axis": null},
            "y": {"field": "part", "type": "nominal", "scale": {"type": "band", "domain": ["head"], "range": [20, 61], "paddingInner": 0, "paddingOuter": 0}, "axis": null}
          }
        },
        {
          "data": {"values": [{"part": "body"}]},
          "mark": {"type": "rect", "color": "#fff2cc"},
          "encoding": {
            "x": {"field": "part", "type": "nominal", "scale": {"type": "band", "domain": ["body"], "range": [548, 824], "paddingInner": 0, "paddingOuter": 0}, "axis": null},
            "y": {"field": "part", "type": "nominal", "scale": {"type": "band", "domain": ["body"], "range": [61, 129], "paddingInner": 0, "paddingOuter": 0}, "axis": null}
          }
        },
        {
          "data": {"name": "cells"},
          "transform": [{"filter": "datum.row === 'header'"}],
          "mark": {"type": "text", "align": "left", "baseline": "alphabetic", "dx": 1, "font": "Lato", "fontSize": 23, "fontWeight": "bold", "color": "#000000"},
          "encoding": {
            "x": {"field": "col", "type": "nominal",
              "scale": {"type": "point", "padding": 0, "range": [278, 820.4], "domain": ["M0prec","c1","c2","c3","mu_pr","c5","c6","c7","c8","fc","c10","c11","name","c13","c14","c15","c16","c17","c18","c19","c20","c21","c22","c23","end"]},
              "axis": null},
            "y": {"field": "row", "type": "nominal",
              "scale": {"type": "point", "padding": 0, "range": [52.5, 122.5], "domain": ["header","r1","r2"]},
              "axis": null},
            "text": {"field": "text"}
          }
        },
        {
          "data": {"name": "cells"},
          "transform": [{"filter": "datum.row !== 'header'"}],
          "mark": {"type": "text", "align": "left", "baseline": "alphabetic", "dx": 1, "font": "Lato", "fontSize": 23.5, "color": "#000000"},
          "encoding": {
            "x": {"field": "col", "type": "nominal",
              "scale": {"type": "point", "padding": 0, "range": [278, 820.4], "domain": ["M0prec","c1","c2","c3","mu_pr","c5","c6","c7","c8","fc","c10","c11","name","c13","c14","c15","c16","c17","c18","c19","c20","c21","c22","c23","end"]},
              "axis": null},
            "y": {"field": "row", "type": "nominal",
              "scale": {"type": "point", "padding": 0, "range": [52.5, 122.5], "domain": ["header","r1","r2"]},
              "axis": null},
            "text": {"field": "text"}
          }
        }
      ]
    },
    {"width": 1, "height": 1, "data": {"values": [{}]}, "mark": {"type": "point", "opacity": 0}, "encoding": {}},
    {
      "width": 463, "height": 105,
      "view": {"fill": "#e5e5e5", "stroke": null},
      "title": {"text": "Measurements and Metran model\u00a0\u00a0\u00a0SGU_Pilot15_Boda_v20", "anchor": "start", "frame": "group", "dx": 10, "offset": 5, "font": "Open Sans", "fontSize": 16, "fontWeight": "normal", "color": "#222222"},
      "encoding": {
        "x": {"field": "t", "type": "quantitative", "title": null, "scale": {"domain": [1999.497, 2019.386], "nice": false, "zero": false}, "axis": {"values": [2000,2002,2004,2006,2008,2010,2012,2014,2016,2018], "format": "d", "labelOverlap": false}},
        "y": {"field": "v", "type": "quantitative", "title": null, "scale": {"domain": [-6.369, -4.927], "nice": false, "zero": false}, "axis": {"values": [-6.2,-6.0,-5.8,-5.6,-5.4,-5.2,-5.0], "format": ".1f", "labelOverlap": false, "labelSeparation": 0}}
      },
      "layer": [
        {"data": {"name": "boda_obs"}, "mark": {"type": "point", "filled": true, "color": "#ff0000", "size": 10, "opacity": 1}},
        {"data": {"name": "boda_model"}, "mark": {"type": "line", "color": "#0000ff", "strokeWidth": 1.8, "interpolate": "monotone"}}
      ]
    },
    {
      "width": 455, "height": 105,
      "view": {"fill": "#e5e5e5", "stroke": null},
      "title": {"text": "Measurements and Metran model\u00a0\u00a0\u00a0SGU_Pilot16_Kinda_v20", "anchor": "start", "frame": "group", "dx": 9.7, "offset": 5, "font": "Open Sans", "fontSize": 16, "fontWeight": "normal", "color": "#222222"},
      "encoding": {
        "x": {"field": "t", "type": "quantitative", "title": null, "scale": {"domain": [1999.098, 2018.933], "nice": false, "zero": false}, "axis": {"values": [2000,2002,2004,2006,2008,2010,2012,2014,2016,2018], "format": "d", "labelOverlap": false}},
        "y": {"field": "v", "type": "quantitative", "title": null, "scale": {"domain": [2.02, 3.42], "reverse": true, "nice": false, "zero": false}, "axis": {"values": [2.2,2.4,2.6,2.8,3.0,3.2,3.4], "format": ".1f", "labelOverlap": false, "labelSeparation": 0}}
      },
      "layer": [
        {"data": {"name": "kinda_obs"}, "mark": {"type": "point", "filled": true, "color": "#ff0000", "size": 10, "opacity": 1}},
        {"data": {"name": "kinda_model"}, "mark": {"type": "line", "color": "#0000ff", "strokeWidth": 1.7}}
      ]
    },
    {"width": 1, "height": 22, "data": {"values": [{}]}, "mark": {"type": "point", "opacity": 0}, "encoding": {}},
    {"width": 1, "height": 22, "data": {"values": [{}]}, "mark": {"type": "point", "opacity": 0}, "encoding": {}},
    {
      "width": 116, "height": 1,
      "view": {"fill": "#bbbbbb", "stroke": null},
      "title": {"text": "Decomposition", "orient": "bottom", "anchor": "start", "frame": "group", "dx": 2, "offset": 1, "font": "Open Sans", "fontSize": 15.5, "fontWeight": "normal", "color": "#333333", "baseline": "top"},
      "data": {"values": [{}]},
      "mark": {"type": "point", "opacity": 0},
      "encoding": {}
    },
    {
      "width": 116, "height": 1,
      "view": {"fill": "#bbbbbb", "stroke": null},
      "title": {"text": "Decomposition", "orient": "bottom", "anchor": "start", "frame": "group", "dx": 1, "offset": 4, "font": "Open Sans", "fontSize": 15.5, "fontWeight": "normal", "color": "#333333", "baseline": "top"},
      "data": {"values": [{}]},
      "mark": {"type": "point", "opacity": 0},
      "encoding": {}
    },
    {"width": 1, "height": 31, "data": {"values": [{}]}, "mark": {"type": "point", "opacity": 0}, "encoding": {}},
    {"width": 1, "height": 31, "data": {"values": [{}]}, "mark": {"type": "point", "opacity": 0}, "encoding": {}},
    {
      "width": 463, "height": 74,
      "view": {"fill": "#e5e5e5", "stroke": null},
      "title": {"text": "prec (SGU_Pilot15_Boda)", "anchor": "middle", "offset": 6, "font": "DejaVu Sans", "fontSize": 10, "fontWeight": "normal", "color": "#333333"},
      "data": {"name": "boda_prec"},
      "mark": {"type": "line", "color": "#008000", "strokeWidth": 2, "clip": true},
      "encoding": {
        "x": {"field": "t", "type": "quantitative", "title": null, "scale": {"domain": [1999.497, 2019.386], "nice": false, "zero": false}, "axis": {"values": [2000,2002,2004,2006,2008,2010,2012,2014,2016,2018], "format": "d"}},
        "y": {"field": "v", "type": "quantitative", "title": null, "scale": {"domain": [2.422, 3.437], "nice": false, "zero": false}, "axis": {"values": [2.6,2.8,3.0,3.2,3.4], "format": ".1f"}}
      }
    },
    {
      "width": 455, "height": 74,
      "view": {"fill": "#e5e5e5", "stroke": null},
      "title": {"text": "prec (SGU_Pilot16_Kinda)", "anchor": "middle", "dx": 12, "offset": 4, "font": "DejaVu Sans", "fontSize": 10, "fontWeight": "normal", "color": "#333333"},
      "data": {"name": "kinda_prec"},
      "mark": {"type": "line", "color": "#008000", "strokeWidth": 1.8, "clip": true},
      "encoding": {
        "x": {"field": "t", "type": "quantitative", "title": null, "scale": {"domain": [1999.098, 2018.933], "nice": false, "zero": false}, "axis": {"values": [2000,2002,2004,2006,2008,2010,2012,2014,2016,2018], "format": "d"}},
        "y": {"field": "v", "type": "quantitative", "title": null, "scale": {"domain": [0.443, 1.409], "nice": false, "zero": false}, "axis": {"values": [0.6,0.8,1.0,1.2], "format": ".1f"}}
      }
    },
    {"width": 1, "height": 37, "data": {"values": [{}]}, "mark": {"type": "point", "opacity": 0}, "encoding": {}},
    {"width": 1, "height": 37, "data": {"values": [{}]}, "mark": {"type": "point", "opacity": 0}, "encoding": {}},
    {
      "width": 463, "height": 76,
      "view": {"fill": "#e5e5e5", "stroke": null},
      "title": {"text": "evpf (SGU_Pilot15_Boda)", "anchor": "middle", "dx": 1, "offset": 3, "font": "DejaVu Sans", "fontSize": 10, "fontWeight": "normal", "color": "#333333"},
      "data": {"name": "boda_evpf"},
      "mark": {"type": "line", "color": "#008000", "strokeWidth": 2, "interpolate": "monotone"},
      "encoding": {
        "x": {"field": "t", "type": "quantitative", "title": null, "scale": {"domain": [1999.497, 2019.386], "nice": false, "zero": false}, "axis": {"values": [2000,2002,2004,2006,2008,2010,2012,2014,2016,2018], "format": "d", "tickSize": 2, "labelPadding": 1}},
        "y": {"field": "v", "type": "quantitative", "title": null, "scale": {"domain": [-2.32, -1.258], "nice": false, "zero": false}, "axis": {"values": [-2.2,-2.0,-1.8,-1.6,-1.4], "format": ".1f"}}
      }
    },
    {
      "width": 455, "height": 76,
      "view": {"fill": "#e5e5e5", "stroke": null},
      "title": {"text": "evpf (SGU_Pilot16_Kinda)", "anchor": "middle", "dx": 12, "offset": 2, "font": "DejaVu Sans", "fontSize": 10, "fontWeight": "normal", "color": "#333333"},
      "data": {"name": "kinda_evpf"},
      "mark": {"type": "line", "color": "#008000", "strokeWidth": 2, "interpolate": "monotone"},
      "encoding": {
        "x": {"field": "t", "type": "quantitative", "title": null, "scale": {"domain": [1999.098, 2018.933], "nice": false, "zero": false}, "axis": {"values": [2000,2002,2004,2006,2008,2010,2012,2014,2016,2018], "format": "d", "tickSize": 2, "labelPadding": 1}},
        "y": {"field": "v", "type": "quantitative", "title": null, "scale": {"domain": [0.232, 1.249], "reverse": true, "nice": false, "zero": false}, "axis": {"values": [0.4,0.6,0.8,1.0,1.2], "format": ".1f"}}
      }
    }
  ],
  "config": {
    "view": {"stroke": null},
    "axis": {"minExtent": 0, "labelFlush": false, "labelOverlap": false, "grid": true, "gridColor": "#ffffff", "gridWidth": 1.1, "domain": false, "ticks": true, "tickColor": "#666666", "tickSize": 3, "tickWidth": 0.8, "labelFont": "DejaVu Sans", "labelFontSize": 6.2, "labelColor": "#555555", "labelPadding": 2},
    "title": {"fontWeight": "normal", "color": "#222222"}
  }
}
